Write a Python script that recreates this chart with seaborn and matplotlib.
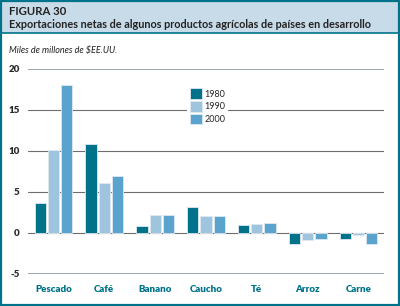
import pandas as pd
import matplotlib.pyplot as plt
import seaborn as sns
from matplotlib.patches import Rectangle

categories = ['Pescado', 'Café', 'Banano', 'Caucho', 'Té', 'Arroz', 'Carne']
years = ['1980', '1990', '2000']
v1980 = [3.7, 10.9, 0.9, 3.2, 1.0, -1.4, -0.7]
v1990 = [10.1, 6.1, 2.2, 2.1, 1.1, -0.8, -0.25]
v2000 = [18.1, 7.0, 2.2, 2.1, 1.2, -0.7, -1.35]
yticks = [-5, 0, 5, 10, 15, 20]

teal = '#00738a'
colors = ['#00728a', '#9fc4de', '#5aa3cc']

rows = []
for yr, vals in zip(years, [v1980, v1990, v2000]):
    for c, v in zip(categories, vals):
        rows.append({'Producto': c, 'Año': yr, 'Valor': v})
df = pd.DataFrame(rows)

sns.set_style('white')
plt.rcParams['font.family'] = ['Lato', 'DejaVu Sans']

fig = plt.figure(figsize=(4, 3.06), dpi=100)
ax = fig.add_axes([0.07, 0.1046, 0.89, 0.67])

# grid lines
for t in yticks:
    lw = 1.2 if t in (20, -5) else 0.8
    col = '#8796a3' if t in (20, -5) else '#6e6e6e'
    ax.axhline(t, color=col, lw=lw, zorder=0)

sns.barplot(data=df, x='Producto', y='Valor', hue='Año', palette=colors,
            saturation=1, width=0.78, gap=0.15, edgecolor='#dfe9f2', linewidth=0.6,
            ax=ax, zorder=2)

ax.set_ylim(-5, 20)
ax.set_xlim(-0.5, 6.5)
ax.set_yticks(yticks)
ax.set_yticklabels([str(t) for t in yticks], fontsize=7, fontweight='heavy', color='#2a2a2a')
ax.set_xticklabels(categories, fontsize=7, fontweight='heavy', color=teal)
ax.tick_params(axis='both', length=0)
ax.tick_params(axis='y', pad=6)
ax.tick_params(axis='x', pad=8)
ax.set_xlabel('')
ax.set_ylabel('')
for s in ax.spines.values():
    s.set_visible(False)

leg = ax.legend(title=None, loc='upper left', bbox_to_anchor=(0.435, 0.94),
                fontsize=6.5, frameon=True, framealpha=1, edgecolor='white',
                handlelength=1.3, handleheight=1.4, labelspacing=0.25,
                handletextpad=0.3, borderpad=0.3, shadow=False)
leg.get_frame().set_linewidth(0)

# header band and border
fig.patches.append(Rectangle((0, 0.892), 1, 0.108, transform=fig.transFigure,
                             facecolor='#c8dbe9', edgecolor=teal, lw=1.2, zorder=-1))
fig.patches.append(Rectangle((0.002, 0.003), 0.996, 0.994, transform=fig.transFigure,
                             facecolor='none', edgecolor=teal, lw=1.6, zorder=5))
fig.text(0.022, 0.963, 'FIGURA 30', fontsize=8.2, fontweight='bold', color='#222222', va='center')
fig.text(0.022, 0.92, 'Exportaciones netas de algunos productos agrícolas de países en desarrollo',
         fontsize=7.85, fontweight='bold', color='#222222', va='center')
fig.text(0.022, 0.835, r'Miles de millones de \$EE.UU.', fontsize=6.5, style='italic',
         color='#222222', va='center')

fig.savefig('out.png', dpi=100)
